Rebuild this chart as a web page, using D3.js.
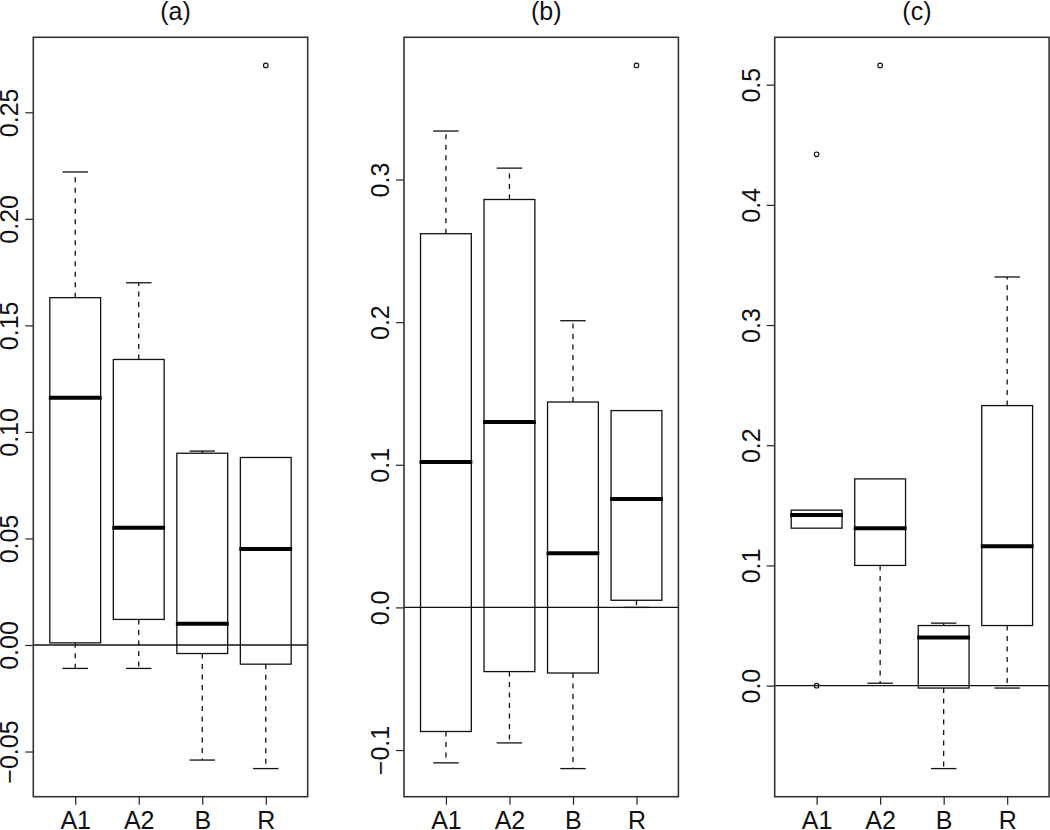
<!DOCTYPE html>
<html lang="en">
<head>
  <meta charset="UTF-8">
  <title>Boxplots (a) (b) (c)</title>
  <script src="https://cdn.jsdelivr.net/npm/d3@7"></script>
  <style>
    body { margin: 0; background: #fff; font-family: "Liberation Sans", Arial, sans-serif; }
    text { fill: #111; }
  </style>
</head>
<body>
  <div id="chart"></div>
  <script>
    // data, one entry per panel, four groups each
    const groups = ["A1", "A2", "B", "R"];
    const panelTitles = ["(a)", "(b)", "(c)"];

    const whiskerLow = [
      [-0.011, -0.011, -0.054, -0.058],
      [-0.109, -0.095, -0.113, 0.000],
      [0.131, 0.002, -0.069, -0.002]
    ];
    const q1 = [
      [0.001, 0.012, -0.004, -0.009],
      [-0.087, -0.045, -0.046, 0.005],
      [0.131, 0.100, -0.002, 0.050]
    ];
    const median = [
      [0.116, 0.055, 0.010, 0.045],
      [0.102, 0.130, 0.038, 0.076],
      [0.142, 0.131, 0.040, 0.116]
    ];
    const q3 = [
      [0.163, 0.134, 0.090, 0.088],
      [0.262, 0.286, 0.144, 0.138],
      [0.146, 0.172, 0.050, 0.233]
    ];
    const whiskerHigh = [
      [0.222, 0.170, 0.091, 0.088],
      [0.334, 0.308, 0.201, 0.138],
      [0.146, 0.172, 0.052, 0.340]
    ];
    // outliers as [group index, value]
    const outliers = [
      [[3, 0.272]],
      [[3, 0.380]],
      [[0, 0.442], [0, 0.000], [1, 0.516]]
    ];
    const yTicks = [
      [-0.05, 0.00, 0.05, 0.10, 0.15, 0.20, 0.25],
      [-0.1, 0.0, 0.1, 0.2, 0.3],
      [0.0, 0.1, 0.2, 0.3, 0.4, 0.5]
    ];
    const tickDigits = [2, 1, 1];

    const W = 1050, H = 830;
    const plotTop = 37.3, plotBottom = 796.7;
    const panelW = 274.4, firstLeft = 33.3, panelStep = 370.7;
    const fontSize = 25;

    const svg = d3.select("#chart").append("svg")
      .attr("width", W).attr("height", H);

    panelTitles.forEach((title, p) => {
      const left = firstLeft + p * panelStep;
      const right = left + panelW;

      const all = [...whiskerLow[p], ...whiskerHigh[p], ...outliers[p].map(d => d[1])];
      const lo = d3.min(all), hi = d3.max(all), pad = (hi - lo) * 0.04;

      const y = d3.scaleLinear().domain([lo - pad, hi + pad]).range([plotBottom, plotTop]);
      const x = d3.scaleLinear().domain([0.34, 4.66]).range([left, right]);
      const unit = x(2) - x(1);
      const boxW = 0.8 * unit;
      const capW = boxW / 2;

      const g = svg.append("g");

      // axes
      const yAxis = d3.axisLeft(y).tickValues(yTicks[p]).tickSize(8).tickPadding(0)
        .tickFormat(v => (v < 0 ? "\u2212" : "") + Math.abs(v).toFixed(tickDigits[p]));
      const ya = g.append("g").attr("transform", `translate(${left},0)`).call(yAxis);
      ya.select(".domain").remove();
      ya.selectAll("line").attr("stroke", "#222").attr("stroke-width", 1.2);
      ya.selectAll("text")
        .attr("font-size", fontSize).attr("font-family", "Liberation Sans, Arial, sans-serif")
        .attr("fill", "#111")
        .attr("transform", "rotate(-90)")
        .attr("text-anchor", "middle")
        .attr("x", 0).attr("y", -15).attr("dy", 0);

      const xAxis = d3.axisBottom(x).tickValues([1, 2, 3, 4]).tickSize(8).tickPadding(0)
        .tickFormat(i => groups[i - 1]);
      const xa = g.append("g").attr("transform", `translate(0,${plotBottom})`).call(xAxis);
      xa.select(".domain").remove();
      xa.selectAll("line").attr("stroke", "#222").attr("stroke-width", 1.2);
      xa.selectAll("text")
        .attr("font-size", fontSize).attr("font-family", "Liberation Sans, Arial, sans-serif")
        .attr("fill", "#111")
        .attr("y", 32).attr("dy", 0);

      groups.forEach((name, i) => {
        const cx = x(i + 1);
        const bg = g.append("g");

        // whiskers
        [[q3[p][i], whiskerHigh[p][i]], [q1[p][i], whiskerLow[p][i]]].forEach(([a, b]) => {
          if (Math.abs(a - b) < 1e-9) return;
          bg.append("line")
            .attr("x1", cx).attr("x2", cx).attr("y1", y(a)).attr("y2", y(b))
            .attr("stroke", "#111").attr("stroke-width", 1.3)
            .attr("stroke-dasharray", "5,5.5");
          bg.append("line")
            .attr("x1", cx - capW / 2).attr("x2", cx + capW / 2)
            .attr("y1", y(b)).attr("y2", y(b))
            .attr("stroke", "#111").attr("stroke-width", 1.3);
        });

        // box
        bg.append("rect")
          .attr("x", cx - boxW / 2).attr("width", boxW)
          .attr("y", y(q3[p][i])).attr("height", y(q1[p][i]) - y(q3[p][i]))
          .attr("fill", "#fff").attr("stroke", "#111").attr("stroke-width", 1.3);

        // median
        bg.append("line")
          .attr("x1", cx - boxW / 2 - 1).attr("x2", cx + boxW / 2 + 1)
          .attr("y1", y(median[p][i])).attr("y2", y(median[p][i]))
          .attr("stroke", "#000").attr("stroke-width", 4);
      });

      // zero line drawn over the boxes as in the reference
      g.append("line")
        .attr("x1", left).attr("x2", right)
        .attr("y1", y(0)).attr("y2", y(0))
        .attr("stroke", "#111").attr("stroke-width", 1.3);

      g.selectAll(".out").data(outliers[p]).enter().append("circle")
        .attr("cx", d => x(d[0] + 1)).attr("cy", d => y(d[1]))
        .attr("r", 2.3).attr("fill", "none")
        .attr("stroke", "#111").attr("stroke-width", 1.1);

      // frame
      g.append("rect")
        .attr("x", left).attr("y", plotTop)
        .attr("width", panelW).attr("height", plotBottom - plotTop)
        .attr("fill", "none").attr("stroke", "#333").attr("stroke-width", 1.6);

      svg.append("text")
        .attr("x", (left + right) / 2 + 5).attr("y", 20)
        .attr("text-anchor", "middle")
        .attr("font-size", fontSize)
        .text(title);
    });
  </script>
</body>
</html>
